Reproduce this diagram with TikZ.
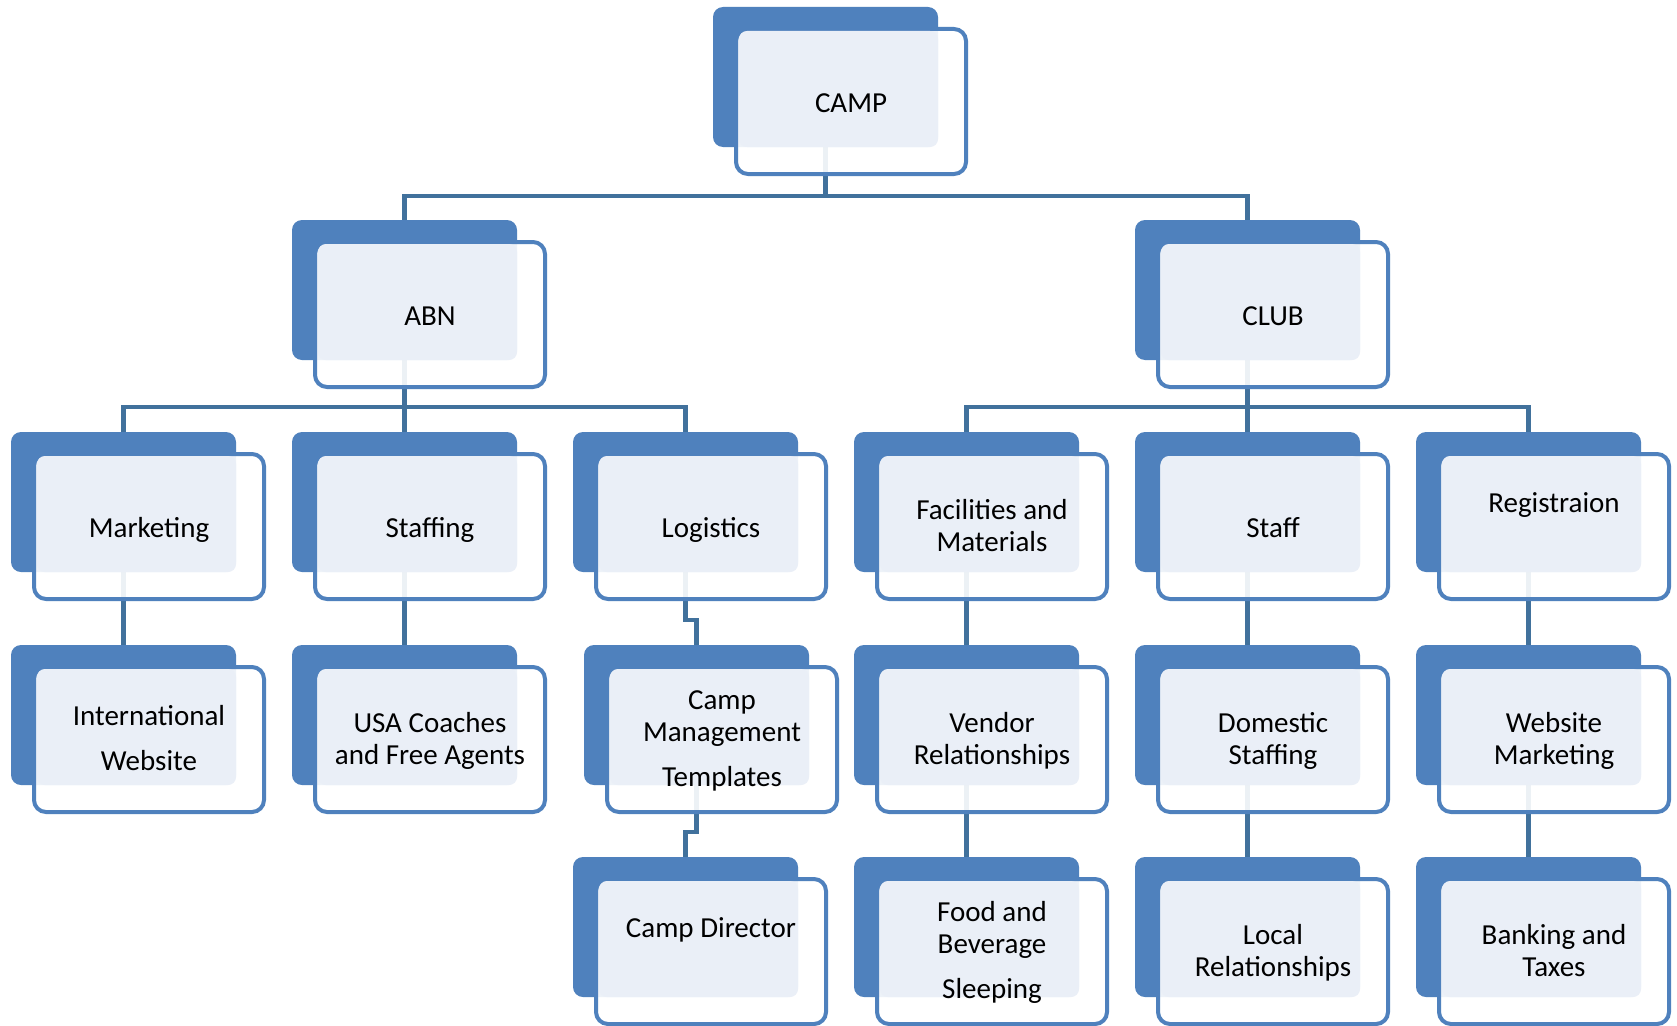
\documentclass[tikz,border=0pt]{standalone}
\usepackage{fontspec}
\setmainfont{Carlito}
\usetikzlibrary{calc}
\pgfdeclarelayer{bg}
\pgfsetlayers{bg,main}
\definecolor{backblue}{HTML}{4F81BD}
\definecolor{lightfill}{HTML}{EAEFF7}
\definecolor{linkblue}{HTML}{41719C}
\newcommand\tstrut{\rule[-6.65pt]{0pt}{32pt}}
\tikzset{
  backbox/.style={fill=backblue, draw=none, rounded corners=10pt, minimum width=225pt,
    minimum height=140pt, inner sep=0pt, outer sep=0pt, anchor=north west},
  frontbox/.style={draw=backblue, line width=4pt, fill=white, fill opacity=0.9,
    rounded corners=12pt, minimum width=230pt, minimum height=145pt, inner sep=0pt,
    outer sep=0pt, anchor=north west},
  lightbox/.style={fill=lightfill, rounded corners=8pt},
  boxtext/.style={align=center, inner sep=0pt, text=black, yshift=-2pt,
    font=\fontsize{29}{32}\selectfont,
    execute at begin node=\tstrut, execute at end node=\tstrut},
  link/.style={draw=linkblue, line width=4.5pt, line join=miter}
}
\newcommand\orgbox[4]{%
  \node[backbox] (#1-b) at (#2,#3) {};
  \node[frontbox] (#1) at (#2+23,#3+22) {};
  \fill[lightbox] (#2+26,#3+24) rectangle (#2+225,#3+140);
  \node[boxtext] (#1-t) at (#1.center) {#4};
}
\begin{document}
\begin{tikzpicture}[x=1pt,y=-1pt]
\begin{pgfonlayer}{bg}
  \fill[white] (0,0) rectangle (1677,1025);
\end{pgfonlayer}
\useasboundingbox (0,0) rectangle (1677,1025);

% row 0
\orgbox{camp}{713}{7}{CAMP}
% row 1
\orgbox{abn}{292}{220}{ABN}
\orgbox{club}{1135}{220}{CLUB}
% row 2
\orgbox{mkt}{11}{432}{Marketing}
\orgbox{stf}{292}{432}{Staffing}
\orgbox{log}{573}{432}{Logistics}
\orgbox{fac}{854}{432}{Facilities and\\Materials}
\orgbox{staff}{1135}{432}{Staff}
\orgbox{reg}{1416}{432}{Registraion\\[13pt]}
% row 3
\orgbox{intl}{11}{645}{International\\[13pt]Website}
\orgbox{usa}{292}{645}{USA Coaches\\and Free Agents}
\orgbox{cmt}{584}{645}{Camp\\Management\\[13pt]Templates}
\orgbox{vend}{854}{645}{Vendor\\Relationships}
\orgbox{dom}{1135}{645}{Domestic\\Staffing}
\orgbox{web}{1416}{645}{Website\\Marketing}
% row 4
\orgbox{dir}{573}{857}{Camp Director\\[13pt]}
\orgbox{food}{854}{857}{Food and\\Beverage\\[13pt]Sleeping}
\orgbox{local}{1135}{857}{Local\\Relationships}
\orgbox{bank}{1416}{857}{Banking and\\Taxes}

\coordinate (bus0) at (0,196);
\coordinate (bus1) at (0,407);
\coordinate (jog1) at (0,620);
\coordinate (jog2) at (0,832);

\begin{pgfonlayer}{bg}
  % CAMP level
  \draw[link] (camp-b.south) -- (camp-b.south |- bus0);
  \draw[link] (abn-b.north) -- (abn-b.north |- bus0) -- (club-b.north |- bus0) -- (club-b.north);
  % ABN level
  \draw[link] (abn-b.south) -- (abn-b.south |- bus1);
  \draw[link] (mkt-b.north) -- (mkt-b.north |- bus1) -- (log-b.north |- bus1) -- (log-b.north);
  \draw[link] (stf-b.north) -- (stf-b.north |- bus1);
  % CLUB level
  \draw[link] (club-b.south) -- (club-b.south |- bus1);
  \draw[link] (fac-b.north) -- (fac-b.north |- bus1) -- (reg-b.north |- bus1) -- (reg-b.north);
  \draw[link] (staff-b.north) -- (staff-b.north |- bus1);
  % row 2 -> 3
  \draw[link] (mkt-b.south) -- (intl-b.north);
  \draw[link] (stf-b.south) -- (usa-b.north);
  \draw[link] (log-b.south) -- (log-b.south |- jog1) -- (cmt-b.north |- jog1) -- (cmt-b.north);
  \draw[link] (fac-b.south) -- (vend-b.north);
  \draw[link] (staff-b.south) -- (dom-b.north);
  \draw[link] (reg-b.south) -- (web-b.north);
  % row 3 -> 4
  \draw[link] (cmt-b.south) -- (cmt-b.south |- jog2) -- (dir-b.north |- jog2) -- (dir-b.north);
  \draw[link] (vend-b.south) -- (food-b.north);
  \draw[link] (dom-b.south) -- (local-b.north);
  \draw[link] (web-b.south) -- (bank-b.north);
\end{pgfonlayer}
\end{tikzpicture}
\end{document}
